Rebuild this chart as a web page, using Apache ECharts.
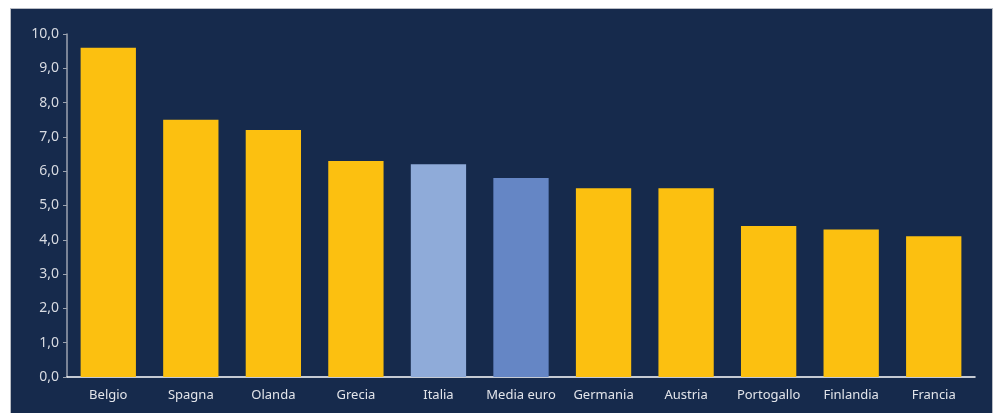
<!DOCTYPE html>
<html><head><meta charset="utf-8">
<script src="https://cdn.jsdelivr.net/npm/echarts@6/dist/echarts.min.js"></script>
<style>
html,body{margin:0;padding:0;background:#fff;width:998px;height:413px;overflow:hidden;}
#panel{position:absolute;left:10px;top:8px;width:981px;height:405px;background:#162A4C;border-left:1px solid #b8bcc4;border-top:1px solid #b8bcc4;border-right:1px solid #b8bcc4;}
#chart{width:981px;height:405px;}
</style></head>
<body>
<div id="panel"><div id="chart"></div></div>
<script>
const categories = ['Belgio','Spagna','Olanda','Grecia','Italia','Media euro','Germania','Austria','Portogallo','Finlandia','Francia'];
const values = [9.6, 7.5, 7.2, 6.3, 6.2, 5.8, 5.5, 5.5, 4.4, 4.3, 4.1];
const barColors = ['#FCC010','#FCC010','#FCC010','#FCC010','#8FABD9','#6586C5','#FCC010','#FCC010','#FCC010','#FCC010','#FCC010'];

const chart = echarts.init(document.getElementById('chart'));
chart.setOption({
  animation:false,
  backgroundColor:'#162A4C',
  grid:{left:56,right:17,top:25,bottom:37},
  xAxis:{
    type:'category',data:categories,
    axisLine:{lineStyle:{color:'#ffffff',width:1.5}},
    axisTick:{show:false},
    axisLabel:{interval:0,color:'#E2E4EA',fontSize:13,fontFamily:'"Noto Sans", sans-serif',margin:12}
  },
  yAxis:{
    type:'value',min:0,max:10,interval:1,
    axisLine:{show:true,lineStyle:{color:'#9CA3B0',width:1.5}},
    axisTick:{show:true,length:4,lineStyle:{color:'#9CA3B0'}},
    splitLine:{show:false},
    axisLabel:{color:'#D8DBE2',fontSize:14,fontFamily:'"Noto Sans", sans-serif',margin:8,
      formatter:v=>v.toFixed(1).replace('.',',')}
  },
  series:[{
    type:'bar',barWidth:'67%',
    data:values.map((v,i)=>({value:v,itemStyle:{color:barColors[i]}}))
  }]
});
</script>
</body></html>
